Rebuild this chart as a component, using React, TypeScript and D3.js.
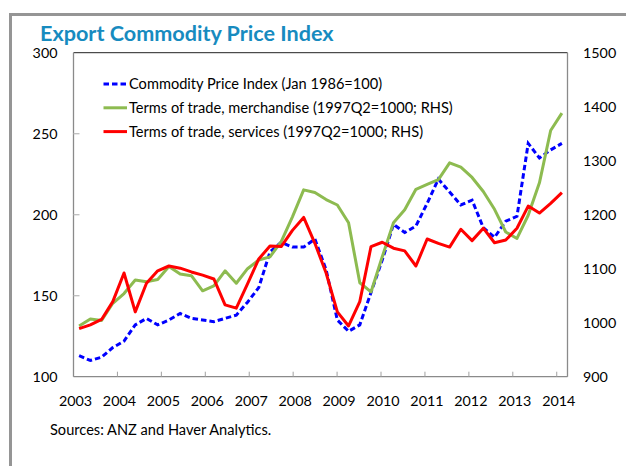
import React from 'react';
import * as d3 from 'd3';

// ---- Data (quarterly, 44 observations) ----
const quarters = [
  '2003Q1','2003Q2','2003Q3','2003Q4','2004Q1','2004Q2','2004Q3','2004Q4',
  '2005Q1','2005Q2','2005Q3','2005Q4','2006Q1','2006Q2','2006Q3','2006Q4',
  '2007Q1','2007Q2','2007Q3','2007Q4','2008Q1','2008Q2','2008Q3','2008Q4',
  '2009Q1','2009Q2','2009Q3','2009Q4','2010Q1','2010Q2','2010Q3','2010Q4',
  '2011Q1','2011Q2','2011Q3','2011Q4','2012Q1','2012Q2','2012Q3','2012Q4',
  '2013Q1','2013Q2','2013Q3','2013Q4'
];

// Commodity Price Index (Jan 1986=100), left axis
const commodityIndex = [
  113, 110, 112, 118, 122, 132, 136, 132,
  135, 139, 136, 135, 134, 136, 138, 146,
  155, 177, 183, 180, 180, 185, 166, 135,
  128, 132, 152, 172, 194, 189, 193, 207,
  222, 214, 206, 209, 192, 186, 196, 199,
  244, 235, 240, 244
];

// Terms of trade, merchandise (1997Q2=1000), right axis
const totMerchandise = [
  994, 1007, 1004, 1036, 1054, 1079, 1076, 1080,
  1104, 1090, 1087, 1059, 1068, 1096, 1073, 1100,
  1116, 1122, 1150, 1196, 1246, 1241, 1228, 1218,
  1185, 1074, 1057, 1122, 1185, 1209, 1247, 1256,
  1265, 1296, 1288, 1269, 1243, 1210, 1168, 1156,
  1199, 1259, 1356, 1388
];

// Terms of trade, services (1997Q2=1000), right axis
const totServices = [
  989, 996, 1006, 1039, 1092, 1020, 1073, 1096,
  1105, 1101, 1094, 1088, 1081, 1033, 1027, 1072,
  1118, 1142, 1141, 1171, 1195, 1147, 1092, 1020,
  994, 1039, 1141, 1149, 1138, 1133, 1105, 1155,
  1147, 1140, 1173, 1152, 1175, 1148, 1153, 1175,
  1216, 1203, 1221, 1241
];

const yearTicks = [2003, 2004, 2005, 2006, 2007, 2008, 2009, 2010, 2011, 2012, 2013, 2014];
const leftTicks = [100, 150, 200, 250, 300];
const rightTicks = [900, 1000, 1100, 1200, 1300, 1400, 1500];

const legendItems = [
  { label: 'Commodity Price Index (Jan 1986=100)', color: '#0000ff', dash: '5.5,3' },
  { label: 'Terms of trade, merchandise (1997Q2=1000; RHS)', color: '#8dbb50', dash: null },
  { label: 'Terms of trade, services (1997Q2=1000; RHS)', color: '#ff0000', dash: null },
];

const FONT = 'Lato, "Open Sans", sans-serif';

export default function App() {
  const W = 626, H = 466;
  const left = 73.5, right = 567.5, top = 52.7, bottom = 376.7;

  const x = d3.scaleBand<string>().domain(quarters).range([left, right]).padding(0);
  const xc = (q: string) => (x(q) as number) + x.bandwidth() / 2;
  const xYear = d3.scaleLinear().domain([2003, 2014.245]).range([left, right]);
  const yL = d3.scaleLinear().domain([100, 300]).range([bottom, top]);
  const yR = d3.scaleLinear().domain([900, 1500]).range([bottom, top]);

  const lineL = d3.line<number>().x((_, i) => xc(quarters[i])).y(d => yL(d));
  const lineR = d3.line<number>().x((_, i) => xc(quarters[i])).y(d => yR(d));

  return (
    <svg width={W} height={H} style={{ position: 'absolute', left: 0, top: 0, background: '#fff' }}
      fontFamily={FONT}>
      <rect x={0} y={0} width={W} height={H} fill="#fff" />
      {/* outer frame */}
      <path d={`M10.5,${H + 5} V14.5 H${W + 5}`} fill="none" stroke="#959595" strokeWidth={3} />

      {/* title */}
      <text x={40} y={41} fontSize={21.6} fontWeight={700} fill="#178bbf">Export Commodity Price Index</text>

      {/* plot frame */}
      <line x1={left} x2={right} y1={top} y2={top} stroke="#222" strokeWidth={1} />
      <line x1={left} x2={left} y1={top} y2={bottom} stroke="#8a8a8a" strokeWidth={1.3} />
      <line x1={right} x2={right} y1={top} y2={bottom} stroke="#8a8a8a" strokeWidth={1.3} />
      <line x1={left} x2={right} y1={bottom} y2={bottom} stroke="#8a8a8a" strokeWidth={1.3} />

      {/* left ticks (inside) */}
      {leftTicks.slice(1, -1).map(t => (
        <line key={t} x1={left} x2={left + 6} y1={yL(t)} y2={yL(t)} stroke="#bdbdbd" strokeWidth={1.3} />
      ))}
      {/* bottom ticks (inside) */}
      {yearTicks.slice(1).map(t => (
        <line key={t} x1={xYear(t)} x2={xYear(t)} y1={bottom} y2={bottom - 5} stroke="#a0a0a0" strokeWidth={1} />
      ))}

      {/* left axis labels */}
      {leftTicks.map(t => (
        <text key={t} x={57.5} y={yL(t)} dy="0.36em" textAnchor="end" fontSize={14.3} fill="#000">{t}</text>
      ))}
      {/* right axis labels */}
      {rightTicks.map(t => (
        <text key={t} x={583} y={yR(t)} dy="0.36em" textAnchor="start" fontSize={14.3} fill="#000">{t}</text>
      ))}
      {/* year labels */}
      {yearTicks.map(t => (
        <text key={t} x={xYear(t) + 2} y={406} textAnchor="middle" fontSize={14.3} fill="#000">{t}</text>
      ))}

      {/* series */}
      <path d={lineL(commodityIndex) || ''} fill="none" stroke="#0000ff" strokeWidth={3} strokeDasharray="5.5,3" />
      <path d={lineR(totMerchandise) || ''} fill="none" stroke="#8dbb50" strokeWidth={3} strokeLinejoin="round" />
      <path d={lineR(totServices) || ''} fill="none" stroke="#ff0000" strokeWidth={3} strokeLinejoin="round" />

      {/* legend */}
      {legendItems.map((it, i) => {
        const yy = 84 + i * 23.8;
        return (
          <g key={it.label}>
            <line x1={103.5} x2={127} y1={yy} y2={yy} stroke={it.color} strokeWidth={3}
              strokeDasharray={it.dash || undefined} />
            <text x={129} y={yy} dy="0.36em" fontSize={14.6} fill="#000">{it.label}</text>
          </g>
        );
      })}

      {/* source */}
      <text x={50} y={435} fontSize={14.6} fill="#000">Sources: ANZ and Haver Analytics.</text>
    </svg>
  );
}
